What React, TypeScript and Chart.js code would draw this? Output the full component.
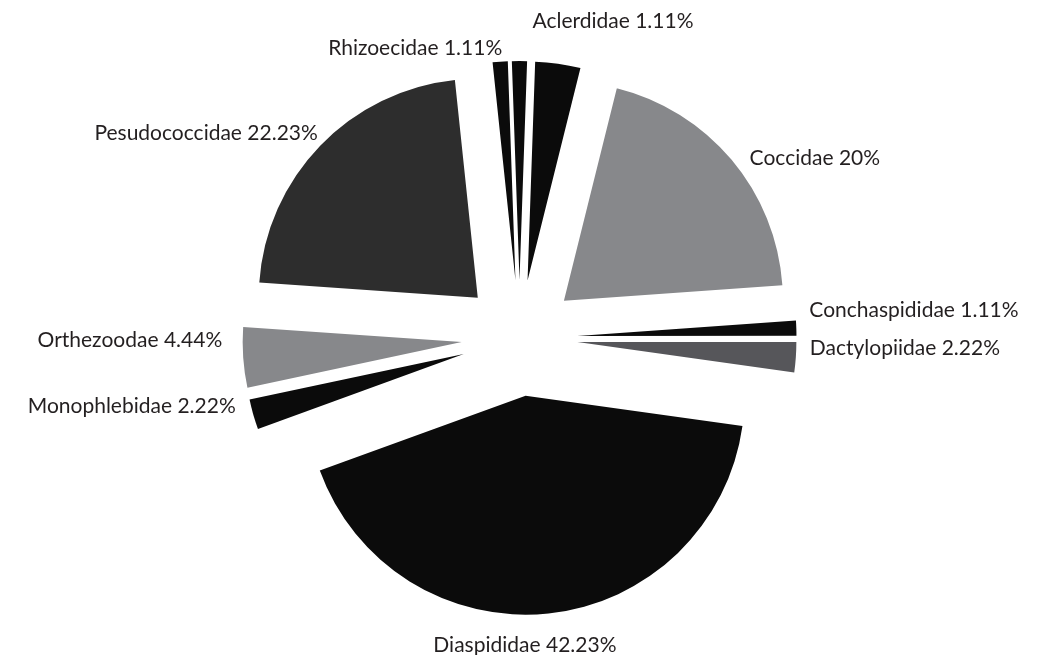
import React, { useEffect, useRef } from "react";
import { Chart, registerables } from "chart.js";

Chart.register(...registerables);

// ---- data ----
const categories = [
  "Rhizoecidae",
  "Aclerdidae",
  "",
  "Coccidae",
  "Conchaspididae",
  "Dactylopiidae",
  "Diaspididae",
  "Monophlebidae",
  "Orthezoodae",
  "Pesudococcidae",
];
const percentages = [1.11, 1.11, 3.33, 20, 1.11, 2.22, 42.23, 2.22, 4.44, 22.23];
const percentLabels = ["1.11%", "1.11%", "", "20%", "1.11%", "2.22%", "42.23%", "2.22%", "4.44%", "22.23%"];

// ---- styles ----
const BLACK = "#0b0b0b";
const sliceColors = [BLACK, BLACK, BLACK, "#87888b", BLACK, "#56565a", BLACK, BLACK, "#87888b", "#2d2d2d"];

const RADIUS = 219;
const EXPLODE = 58;
const LABEL_DIST = 290;
const FONT = "21px Lato, 'Open Sans', sans-serif";
const TEXT_COLOR = "#231f20";

const labelLayout: Record<string, { dx: number; dy: number; align: CanvasTextAlign }> = {
  Rhizoecidae: { dx: 3, dy: 6, align: "right" },
  Aclerdidae: { dx: 13, dy: -20, align: "left" },
  Coccidae: { dx: 8, dy: 13, align: "left" },
  Conchaspididae: { dx: 0, dy: -11, align: "left" },
  Dactylopiidae: { dx: 1, dy: -3, align: "left" },
  Diaspididae: { dx: -25, dy: 26, align: "center" },
  Monophlebidae: { dx: -5, dy: -5, align: "right" },
  Orthezoodae: { dx: -8, dy: -11, align: "right" },
  Pesudococcidae: { dx: 7, dy: 3, align: "right" },
};

const explodePlugin = {
  id: "explodeSlices",
  afterDatasetUpdate(chart: any, args: any) {
    const meta = args.meta;
    meta.data.forEach((arc: any) => {
      const mid = (arc.startAngle + arc.endAngle) / 2;
      arc.x = arc.x + Math.cos(mid) * EXPLODE;
      arc.y = arc.y + Math.sin(mid) * EXPLODE;
    });
  },
};

const labelPlugin = {
  id: "sliceLabels",
  afterDatasetsDraw(chart: any) {
    const ctx = chart.ctx as CanvasRenderingContext2D;
    const meta = chart.getDatasetMeta(0);
    const ca = chart.chartArea;
    const cx = (ca.left + ca.right) / 2;
    const cy = (ca.top + ca.bottom) / 2;
    ctx.save();
    ctx.font = FONT;
    ctx.fillStyle = TEXT_COLOR;
    ctx.textBaseline = "alphabetic";
    meta.data.forEach((arc: any, i: number) => {
      const name = categories[i];
      if (!name) return;
      const lay = labelLayout[name];
      const mid = (arc.startAngle + arc.endAngle) / 2;
      const x = cx + Math.cos(mid) * LABEL_DIST + lay.dx;
      const y = cy + Math.sin(mid) * LABEL_DIST + lay.dy;
      ctx.textAlign = lay.align;
      ctx.fillText(`${name} ${percentLabels[i]}`, x, y);
    });
    ctx.restore();
  },
};

export default function App() {
  const ref = useRef<HTMLCanvasElement | null>(null);
  useEffect(() => {
    if (!ref.current) return;
    const chart = new Chart(ref.current, {
      type: "pie",
      data: {
        labels: categories,
        datasets: [
          {
            data: percentages,
            backgroundColor: sliceColors,
            borderWidth: 0,
          },
        ],
      },
      options: {
        responsive: false,
        animation: false,
        rotation: -6,
        radius: RADIUS,
        layout: { padding: { top: 21, left: 0, right: 0, bottom: 0 } },
        plugins: {
          legend: { display: false },
          tooltip: { enabled: false },
        },
        events: [],
      },
      plugins: [explodePlugin, labelPlugin],
    });
    return () => chart.destroy();
  }, []);
  return (
    <div style={{ position: "absolute", left: 0, top: 0, width: 1039, height: 655, background: "#fff" }}>
      <canvas ref={ref} width={1039} height={655} style={{ width: 1039, height: 655 }} />
    </div>
  );
}
